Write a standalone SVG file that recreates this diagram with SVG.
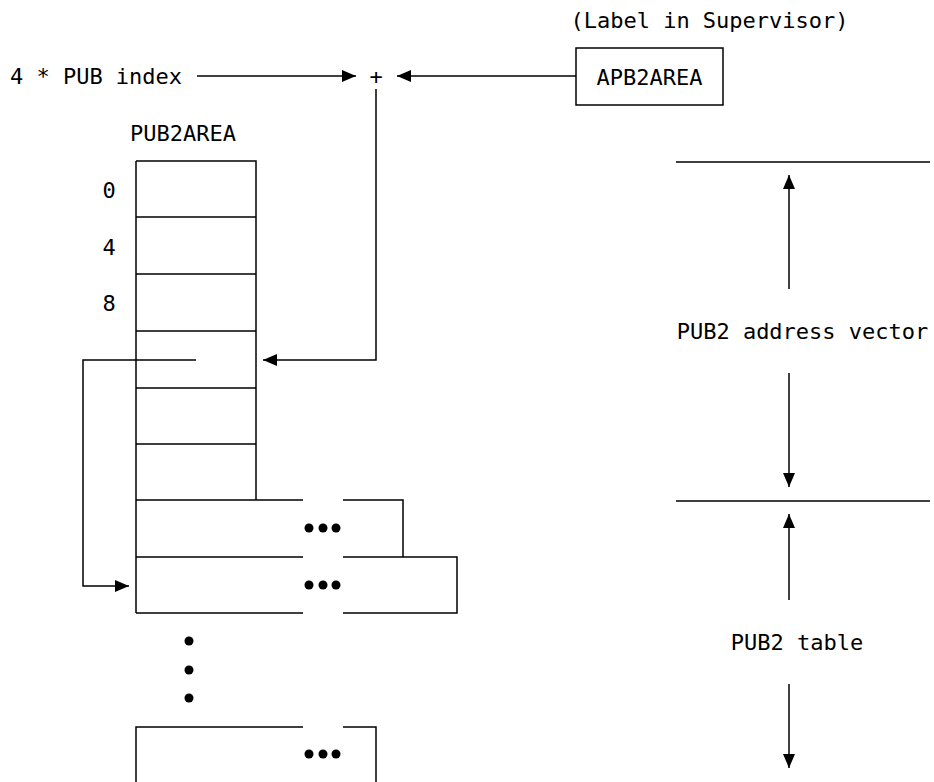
<svg xmlns="http://www.w3.org/2000/svg" width="934" height="782" viewBox="0 0 934 782">
<style>
text{font-family:"DejaVu Sans Mono","Liberation Mono",monospace;font-size:22px;fill:#000;text-anchor:middle}
.ln{stroke:#000;stroke-width:1.5;fill:none}
.dot{fill:#000}
</style>
<defs>
<marker id="ah" viewBox="0 0 14 12" refX="14" refY="6" markerWidth="14" markerHeight="12" markerUnits="userSpaceOnUse" orient="auto">
<path d="M0,0 L14,6 L0,12 Z" fill="#000"/>
</marker>
</defs>
<rect width="934" height="782" fill="#fff"/>

<g id="index-label"><text x="96" y="84">4 * PUB index</text></g>
<g id="plus"><text x="376" y="84">+</text></g>
<g id="supervisor-label"><text x="709.5" y="28">(Label in Supervisor)</text></g>
<g id="apb2area">
<rect class="ln" x="576" y="48" width="147" height="57"/>
<text x="649.5" y="85">APB2AREA</text>
</g>

<g id="pub2area">
<text x="183" y="141">PUB2AREA</text>
<text x="109" y="198">0</text>
<text x="109" y="255">4</text>
<text x="109" y="311">8</text>
<path class="ln" d="M136,161 H256 V500 M136,217 H256 M136,274 H256 M136,331 H256 M136,388 H256 M136,444 H256 M136,161 V613"/>
<path class="ln" d="M136,500 H303 M343,500 H403 V557 M136,557 H303 M343,557 H457 V613 H343 M303,613 H136"/>
<circle class="dot" cx="309" cy="528" r="4.5"/><circle class="dot" cx="323" cy="528" r="4.5"/><circle class="dot" cx="336" cy="528" r="4.5"/>
<circle class="dot" cx="309" cy="585" r="4.5"/><circle class="dot" cx="323" cy="585" r="4.5"/><circle class="dot" cx="336" cy="585" r="4.5"/>
<circle class="dot" cx="189" cy="641" r="4.5"/><circle class="dot" cx="189" cy="670" r="4.5"/><circle class="dot" cx="189" cy="698" r="4.5"/>
<path class="ln" d="M136,790 V727 H303 M343,727 H376 V790"/>
<circle class="dot" cx="309" cy="754" r="4.5"/><circle class="dot" cx="323" cy="754" r="4.5"/><circle class="dot" cx="336" cy="754" r="4.5"/>
</g>

<g id="vector-extent">
<path class="ln" d="M676,162 H930 M676,501 H930"/>
<text x="802.5" y="339">PUB2 address vector</text>
<text x="797" y="650">PUB2 table</text>
</g>

<g id="connectors">
<path class="ln" d="M197,76 H356" marker-end="url(#ah)"/>
<path class="ln" d="M576,76 H397" marker-end="url(#ah)"/>
<path class="ln" d="M376,89 V360 H263" marker-end="url(#ah)"/>
<path class="ln" d="M196,360 H83 V586 H129" marker-end="url(#ah)"/>
<path class="ln" d="M789,289 V175" marker-end="url(#ah)"/>
<path class="ln" d="M789,373 V487" marker-end="url(#ah)"/>
<path class="ln" d="M789,600 V514" marker-end="url(#ah)"/>
<path class="ln" d="M789,684 V768" marker-end="url(#ah)"/>
</g>
</svg>
